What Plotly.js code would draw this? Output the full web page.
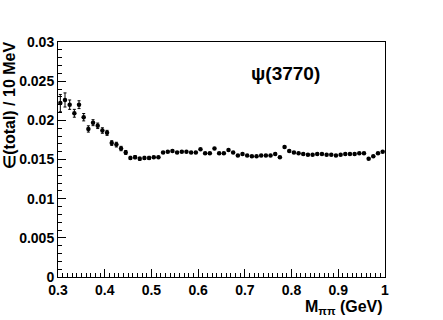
<!DOCTYPE html>
<html>
<head>
<meta charset="utf-8">
<script src="https://cdn.plot.ly/plotly-3.0.1.min.js"></script>
<style>
  html, body { margin: 0; padding: 0; background: #fff; }
  #myChart { width: 443px; height: 320px; }
</style>
</head>
<body>
<div id="myChart"></div>
<script>
// bin centres in GeV, 10 MeV bins from 0.3 to 1.0
var massBins = [
  0.305, 0.315, 0.325, 0.335, 0.345, 0.355, 0.365, 0.375, 0.385, 0.395,
  0.405, 0.415, 0.425, 0.435, 0.445, 0.455, 0.465, 0.475, 0.485, 0.495,
  0.505, 0.515, 0.525, 0.535, 0.545, 0.555, 0.565, 0.575, 0.585, 0.595,
  0.605, 0.615, 0.625, 0.635, 0.645, 0.655, 0.665, 0.675, 0.685, 0.695,
  0.705, 0.715, 0.725, 0.735, 0.745, 0.755, 0.765, 0.775, 0.785, 0.795,
  0.805, 0.815, 0.825, 0.835, 0.845, 0.855, 0.865, 0.875, 0.885, 0.895,
  0.905, 0.915, 0.925, 0.935, 0.945, 0.955, 0.965, 0.975, 0.985, 0.995,
];

// efficiency per bin
var efficiency = [
  0.0222, 0.0226, 0.0220, 0.0209, 0.0220, 0.0204, 0.0189, 0.0197, 0.0193, 0.0187,
  0.0184, 0.0171, 0.0169, 0.0164, 0.0159, 0.0152, 0.0153, 0.0151, 0.0152, 0.0152,
  0.0153, 0.0153, 0.0159, 0.0160, 0.0161, 0.0159, 0.0160, 0.0160, 0.0159, 0.0159,
  0.0163, 0.0158, 0.0158, 0.0164, 0.0158, 0.0158, 0.0162, 0.0159, 0.0155, 0.0157,
  0.0155, 0.0154, 0.0154, 0.0155, 0.0155, 0.0155, 0.0157, 0.0153, 0.0166, 0.0161,
  0.0159, 0.0158, 0.0157, 0.0156, 0.0156, 0.0157, 0.0157, 0.0156, 0.0156, 0.0155,
  0.0156, 0.0157, 0.0157, 0.0157, 0.0158, 0.0158, 0.0151, 0.0154, 0.0158, 0.0160,
];

// statistical errors, only visible for the first bins
var efficiencyErr = [
  0.0011, 0.0009, 0.0006, 0.0005, 0.0005, 0.00047, 0.0004, 0.00038, 0.00035, 0.00035,
  0.00032, 0.0003, 0.0003, 0.00028, 0.00025, 0.0002, 0.0002, 0.0002, 0.0002, 0.0002,
  0.0001, 0.0001, 0.0001, 0.0001, 0.0001, 0.0001, 0.0001, 0.0001, 0.0001, 0.0001,
  0.0001, 0.0001, 0.0001, 0.0001, 0.0001, 0.0001, 0.0001, 0.0001, 0.0001, 0.0001,
  0.0001, 0.0001, 0.0001, 0.0001, 0.0001, 0.0001, 0.0001, 0.0001, 0.0001, 0.0001,
  0.0001, 0.0001, 0.0001, 0.0001, 0.0001, 0.0001, 0.0001, 0.0001, 0.0001, 0.0001,
  0.0001, 0.0001, 0.0001, 0.0001, 0.0001, 0.0001, 0.0001, 0.0001, 0.0001, 0.0001,
];

// tick labels
var xTickVals = [0.3, 0.4, 0.5, 0.6, 0.7, 0.8, 0.9, 1.0];
var xTickText = ["0.3", "0.4", "0.5", "0.6", "0.7", "0.8", "0.9", "1"];
var yTickVals = [0, 0.005, 0.01, 0.015, 0.02, 0.025, 0.03];
var yTickText = ["0", "0.005", "0.01", "0.015", "0.02", "0.025", "0.03"];

var fontFamily = "Liberation Sans, Arial, sans-serif";
var tickFont = { family: fontFamily, size: 14, color: "black", weight: "bold" };
var titleFont = { family: fontFamily, size: 16, color: "black", weight: "bold" };

var data = [
  {
    type: "scatter",
    mode: "markers",
    x: massBins,
    y: efficiency,
    marker: { color: "black", size: 4.5 },
    error_y: {
      type: "data",
      array: efficiencyErr,
      visible: true,
      color: "black",
      thickness: 1,
      width: 1.5,
    },
    hoverinfo: "none",
  },
];

var layout = {
  width: 443,
  height: 320,
  margin: { l: 58, r: 58, t: 42, b: 43 },
  paper_bgcolor: "white",
  plot_bgcolor: "white",
  showlegend: false,
  font: tickFont,
  xaxis: {
    range: [0.3, 1.0],
    tickvals: xTickVals,
    ticktext: xTickText,
    ticks: "inside",
    ticklen: 8,
    tickcolor: "black",
    tickfont: tickFont,
    showgrid: false,
    zeroline: false,
    showline: true,
    linecolor: "black",
    linewidth: 1,
    mirror: true,
    minor: { ticks: "inside", ticklen: 4, dtick: 0.01, tickcolor: "black", showgrid: false },
  },
  yaxis: {
    range: [0, 0.03],
    tickvals: yTickVals,
    ticktext: yTickText,
    ticks: "inside",
    ticklen: 8,
    tickcolor: "black",
    tickfont: tickFont,
    showgrid: false,
    zeroline: false,
    showline: true,
    linecolor: "black",
    linewidth: 1,
    mirror: true,
    minor: { ticks: "inside", ticklen: 4, dtick: 0.001, tickcolor: "black", showgrid: false },
  },
  annotations: [
    // y title, right-aligned at the top like ROOT does it
    {
      text: "∈(total) / 10 MeV",
      xref: "paper",
      yref: "paper",
      x: -0.148,
      y: 1.01,
      xanchor: "center",
      yanchor: "top",
      textangle: -90,
      showarrow: false,
      font: titleFont,
    },
    // x title
    {
      text: "M<sub>ππ</sub> (GeV)",
      xref: "paper",
      yref: "paper",
      x: 1.0,
      y: -0.128,
      xanchor: "right",
      yanchor: "middle",
      showarrow: false,
      font: titleFont,
    },
    // resonance label
    {
      text: "ψ(3770)",
      xref: "paper",
      yref: "paper",
      x: 0.695,
      y: 0.868,
      xanchor: "center",
      yanchor: "middle",
      showarrow: false,
      font: { family: fontFamily, size: 19, color: "black", weight: "bold" },
    },
  ],
};

var config = { displayModeBar: false, staticPlot: true };

Plotly.newPlot("myChart", data, layout, config);
</script>
</body>
</html>
